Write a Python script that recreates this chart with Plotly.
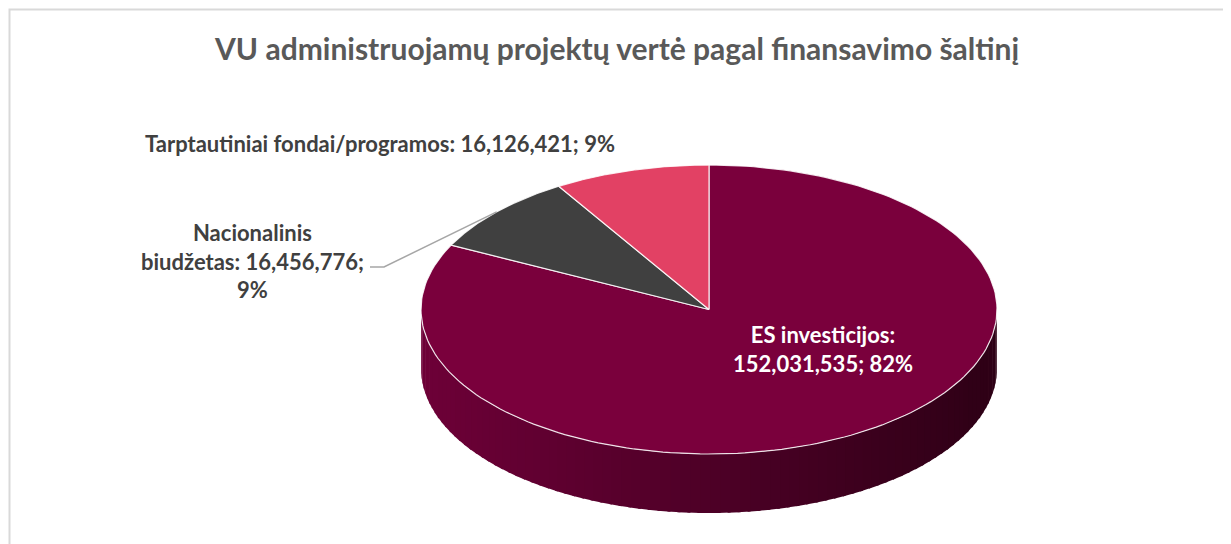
import numpy as np
import plotly.graph_objects as go

# ---- data ----
categories = ["ES investicijos", "Nacionalinis biudžetas", "Tarptautiniai fondai/programos"]
values = [152031535, 16456776, 16126421]
colors = ["#7A003C", "#404040", "#E24164"]
label_texts = [
    "<b>ES investicijos:<br>152,031,535; 82%</b>",
    "<b>Nacionalinis<br>biudžetas: 16,456,776;<br>9%</b>",
    "<b>Tarptautiniai fondai/programos: 16,126,421; 9%</b>",
]
title_text = "<b>VU administruojamų projektų vertė pagal finansavimo šaltinį</b>"

# ---- geometry (pixel space of the page) ----
W, H = 1231, 544
OFF = 8  # page body margin
cx, cy, rx, ry, depth = 709, 309.5, 288, 144.5, 59
FONT = "Lato"

def pt(theta_deg, dy=0.0):
    t = np.radians(theta_deg)
    return cx + rx * np.sin(t), cy - ry * np.cos(t) + dy

fig = go.Figure()

total = float(sum(values))
fracs = [v / total for v in values]
bounds = np.concatenate([[0], np.cumsum(fracs)]) * 360.0

# side wall (front half: 90..270 deg), drawn as shaded strips
n_strips = 90
edges = np.linspace(90, 270, n_strips + 1)
base_dark = np.array([0x2E, 0x00, 0x16])
base_light = np.array([0x6E, 0x00, 0x38])
for k in range(n_strips):
    a0, a1 = edges[k], edges[k + 1]
    am = 0.5 * (a0 + a1)
    s = np.sin(np.radians(am))  # -1 left .. 1 right
    w = (s + 1) / 2
    c = base_light * (1 - w) + base_dark * w
    col = "rgb(%d,%d,%d)" % tuple(c.astype(int))
    ts = np.linspace(a0 - 0.3, a1 + 0.3, 4)
    xs_top, ys_top = pt(ts)
    xs_bot, ys_bot = pt(ts[::-1], depth)
    xs = np.concatenate([xs_top, xs_bot, [xs_top[0]]])
    ys = np.concatenate([ys_top, ys_bot, [ys_top[0]]])
    fig.add_trace(go.Scatter(x=xs, y=ys, mode="lines", fill="toself",
                             fillcolor=col, line=dict(width=0, color=col),
                             hoverinfo="skip", showlegend=False))

# top faces
for i in range(len(values)):
    ts = np.linspace(bounds[i], bounds[i + 1], 200)
    ax, ay = pt(ts)
    xs = np.concatenate([[cx], ax, [cx]])
    ys = np.concatenate([[cy], ay, [cy]])
    fig.add_trace(go.Scatter(x=xs, y=ys, mode="lines", fill="toself",
                             fillcolor=colors[i],
                             line=dict(width=1.2, color="rgba(255,255,255,0.85)"),
                             hoverinfo="skip", showlegend=False,
                             name=categories[i]))

# leader line for the national budget label (ends at rim, mid-angle of slice)
mid1 = 0.5 * (bounds[1] + bounds[2])
lx, ly = pt(mid1)
fig.add_trace(go.Scatter(x=[370, 384, lx], y=[267, 267, ly], mode="lines",
                         line=dict(color="#A6A6A6", width=1.5),
                         hoverinfo="skip", showlegend=False))

annotations = [
    dict(x=616, y=48, text=title_text, font=dict(family=FONT, size=30, color="#595959")),
    dict(x=823, y=349, text=label_texts[0], font=dict(family=FONT, size=22, color="#FFFFFF")),
    dict(x=252, y=261, text=label_texts[1], font=dict(family=FONT, size=22, color="#404040")),
    dict(x=380, y=143, text=label_texts[2], font=dict(family=FONT, size=22, color="#404040")),
]
for a in annotations:
    a.update(xref="x", yref="y", showarrow=False, xanchor="center", yanchor="middle", align="center")

fig.update_layout(
    width=W, height=H,
    margin=dict(l=0, r=0, t=0, b=0),
    paper_bgcolor="white", plot_bgcolor="white",
    xaxis=dict(range=[OFF, W + OFF], visible=False, fixedrange=True),
    yaxis=dict(range=[H + OFF, OFF], visible=False, fixedrange=True),
    annotations=annotations,
    shapes=[dict(type="rect", xref="x", yref="y", x0=9.5, y0=9.5, x1=1226.5, y1=600,
                 line=dict(color="#D9D9D9", width=2), layer="below")],
    showlegend=False,
)

fig.write_html("out.html")
